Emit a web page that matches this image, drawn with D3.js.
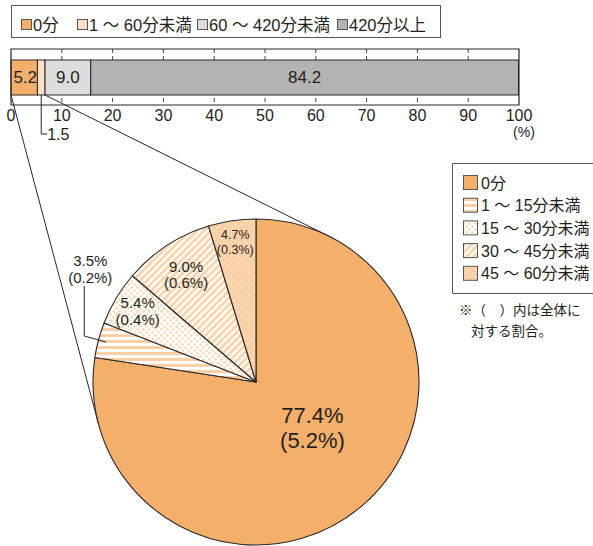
<!DOCTYPE html>
<html>
<head>
<meta charset="utf-8">
<script src="https://cdn.jsdelivr.net/npm/d3@7"></script>
<style>
  html, body { margin: 0; padding: 0; background: #fff; }
  svg { display: block; }
  text { font-family: "Liberation Sans", "Noto Sans CJK JP", sans-serif; fill: #231f20; }
</style>
</head>
<body>
<svg id="chart" width="593" height="546"></svg>
<script>
// ---- data ----
const barCategories = ["0分", "1 ～ 60分未満", "60 ～ 420分未満", "420分以上"];
const barValues = [5.2, 1.5, 9.0, 84.2];
const xTickValues = [0, 10, 20, 30, 40, 50, 60, 70, 80, 90, 100];

const pieCategories = ["0分", "1 ～ 15分未満", "15 ～ 30分未満", "30 ～ 45分未満", "45 ～ 60分未満"];
const pieShare = [77.4, 3.5, 5.4, 9.0, 4.7];      // share within 0～60 min
const pieOfTotal = [5.2, 0.2, 0.4, 0.6, 0.3];     // share of the whole

const noteLines = ["※（　）内は全体に", "対する割合。"];

// ---- styles ----
const ORANGE = "#f4af6b";
const PEACH = "#fad0a6";
const barFills = [ORANGE, "#fde0c5", "#dcdddc", "#b3b3b3"];
const pieFills = [ORANGE, "url(#hstripe)", "url(#dots)", "url(#diag)", "url(#circles)"];
const INK = "#2b2727";

const svg = d3.select("#chart");
const defs = svg.append("defs");

// horizontal stripes
const p1 = defs.append("pattern").attr("id", "hstripe").attr("patternUnits", "userSpaceOnUse")
  .attr("width", 6).attr("height", 6);
p1.append("rect").attr("width", 6).attr("height", 6).attr("fill", "#fff");
p1.append("rect").attr("y", 0).attr("width", 6).attr("height", 3).attr("fill", PEACH);

// small staggered dots
const p2 = defs.append("pattern").attr("id", "dots").attr("patternUnits", "userSpaceOnUse")
  .attr("width", 6).attr("height", 6);
p2.append("rect").attr("width", 6).attr("height", 6).attr("fill", "#fff");
p2.append("circle").attr("cx", 1.5).attr("cy", 1.5).attr("r", 1.2).attr("fill", PEACH);
p2.append("circle").attr("cx", 4.5).attr("cy", 4.5).attr("r", 1.2).attr("fill", PEACH);

// diagonal stripes
const p3 = defs.append("pattern").attr("id", "diag").attr("patternUnits", "userSpaceOnUse")
  .attr("width", 5).attr("height", 5).attr("patternTransform", "rotate(45)");
p3.append("rect").attr("width", 5).attr("height", 5).attr("fill", "#fff");
p3.append("rect").attr("width", 2.6).attr("height", 5).attr("fill", PEACH);

// large circles
const p4 = defs.append("pattern").attr("id", "circles").attr("patternUnits", "userSpaceOnUse")
  .attr("width", 7).attr("height", 7);
p4.append("rect").attr("width", 7).attr("height", 7).attr("fill", "#fff");
[[0, 0], [7, 0], [0, 7], [7, 7], [3.5, 3.5]].forEach(([cx, cy]) =>
  p4.append("circle").attr("cx", cx).attr("cy", cy).attr("r", 3.1).attr("fill", PEACH));

// ---- top legend ----
const topLegend = svg.append("g");
topLegend.append("rect").attr("x", 11.5).attr("y", 5.5).attr("width", 429).attr("height", 32)
  .attr("fill", "none").attr("stroke", "#555").attr("stroke-width", 1);
const topLegendX = [21, 77, 197, 337];
barCategories.forEach((c, i) => {
  topLegend.append("rect").attr("x", topLegendX[i] + 0.5).attr("y", 19.5).attr("width", 10).attr("height", 10)
    .attr("fill", barFills[i]).attr("stroke", "#555").attr("stroke-width", 1);
  topLegend.append("text").attr("x", topLegendX[i] + 12).attr("y", 24.5)
    .attr("dominant-baseline", "central").attr("font-size", 16.5).text(c);
});

// ---- stacked bar ----
const frameTop = 49, frameBottom = 105, barTop = 60, barBottom = 95;
const x = d3.scaleLinear().domain([0, 100]).range([11, 519]);

const barG = svg.append("g");
// dashed tick lines behind the bar
barG.selectAll("line.grid").data(xTickValues.slice(1, -1)).join("line")
  .attr("x1", d => x(d)).attr("x2", d => x(d))
  .attr("y1", frameTop).attr("y2", frameBottom)
  .attr("stroke", "#444").attr("stroke-width", 1).attr("stroke-dasharray", "4,3");

const starts = barValues.map((v, i) => d3.sum(barValues.slice(0, i)));
barG.selectAll("rect.seg").data(barValues).join("rect")
  .attr("x", (d, i) => x(starts[i])).attr("width", (d, i) => x(starts[i] + d) - x(starts[i]))
  .attr("y", barTop).attr("height", barBottom - barTop)
  .attr("fill", (d, i) => barFills[i]).attr("stroke", INK).attr("stroke-width", 1);

// frame
barG.append("path")
  .attr("d", `M${x(0)},${frameTop}H${x(100)}V${frameBottom}H${x(0)}Z`)
  .attr("fill", "none").attr("stroke", INK).attr("stroke-width", 1.2);

// values inside bar
[0, 2, 3].forEach(i => {
  barG.append("text").attr("x", x(starts[i] + barValues[i] / 2) + (i === 0 ? 1 : 0)).attr("y", (barTop + barBottom) / 2)
    .attr("text-anchor", "middle").attr("dominant-baseline", "central").attr("font-size", 17)
    .text(barValues[i].toFixed(1));
});
// leader for the thin 1.5 segment
const smallX = x(starts[1] + barValues[1] / 2);
const smallY = 134;
barG.append("path").attr("d", `M${smallX},${barBottom}V${smallY}H${smallX + 6}`)
  .attr("fill", "none").attr("stroke", INK).attr("stroke-width", 1);
barG.append("text").attr("x", smallX + 6).attr("y", smallY).attr("dominant-baseline", "central")
  .attr("font-size", 16).text(barValues[1].toFixed(1));

// axis labels
barG.selectAll("text.tick").data(xTickValues).join("text")
  .attr("x", d => x(d)).attr("y", 115.5).attr("text-anchor", "middle")
  .attr("dominant-baseline", "central").attr("font-size", 16).text(d => d);
barG.append("text").attr("x", x(100) + 5).attr("y", 132).attr("text-anchor", "middle")
  .attr("dominant-baseline", "central").attr("font-size", 14).text("(%)");

// ---- pie ----
const cx = 256, cy = 382, R = 163;
const pie = d3.pie().sort(null).value(d => d).startAngle(0).endAngle(2 * Math.PI);
const arcs = pie(pieShare);
const arc = d3.arc().innerRadius(0).outerRadius(R);

// lines joining the 0～60 min part of the bar to the pie
function tangent(px, py, sign) {
  const dx = px - cx, dy = py - cy;
  const d = Math.hypot(dx, dy);
  const th = Math.atan2(dy, dx) + sign * Math.acos(R / d);
  return [cx + R * Math.cos(th), cy + R * Math.sin(th)];
}
const joinStart = [x(0), barBottom];
const joinEnd = [x(barValues[0] + barValues[1]), barBottom];
const t1 = tangent(joinStart[0], joinStart[1], -1);
const t2 = tangent(joinEnd[0], joinEnd[1], +1);
svg.append("line").attr("x1", joinStart[0]).attr("y1", joinStart[1]).attr("x2", t1[0]).attr("y2", t1[1])
  .attr("stroke", INK).attr("stroke-width", 1);
svg.append("line").attr("x1", joinEnd[0]).attr("y1", joinEnd[1]).attr("x2", t2[0]).attr("y2", t2[1])
  .attr("stroke", INK).attr("stroke-width", 1);

const pieG = svg.append("g").attr("transform", `translate(${cx},${cy})`);
pieG.selectAll("path").data(arcs).join("path")
  .attr("d", arc).attr("fill", (d, i) => pieFills[i])
  .attr("stroke", INK).attr("stroke-width", 1.1).attr("stroke-linejoin", "round");

const polar = (r, a) => [r * Math.sin(a), -r * Math.cos(a)];
const mid = d => (d.startAngle + d.endAngle) / 2;
const pct = v => v.toFixed(1) + "%";
const pctP = v => "(" + v.toFixed(1) + "%)";

function twoLine(px, py, i, size, gap) {
  pieG.append("text").attr("x", px).attr("y", py - gap / 2).attr("text-anchor", "middle")
    .attr("dominant-baseline", "central").attr("font-size", size).text(pct(pieShare[i]));
  pieG.append("text").attr("x", px).attr("y", py + gap / 2).attr("text-anchor", "middle")
    .attr("dominant-baseline", "central").attr("font-size", size).text(pctP(pieOfTotal[i]));
}
// main slice
{
  const [lx, ly] = polar(73, mid(arcs[0]) - 10 * Math.PI / 180);
  twoLine(lx, ly, 0, 22, 25);
}
// inner labels
[[2, 138, 15, 17], [3, 128, 15, 16], [4, 141, 12.5, 15]].forEach(([i, r, size, gap]) => {
  const [lx, ly] = polar(r, mid(arcs[i]));
  twoLine(lx, ly, i, size, gap);
});
// outside label with leader for the thin slice
{
  const a = mid(arcs[1]);
  const [ex, ey] = polar(155, a);
  const kneeX = ex - 22, kneeY = ey - 6;
  pieG.append("path").attr("d", `M${ex},${ey}L${kneeX},${kneeY}V${kneeY - 50}`)
    .attr("fill", "none").attr("stroke", INK).attr("stroke-width", 1);
  twoLine(kneeX + 6, kneeY - 67.5, 1, 15, 17);
}

// ---- pie legend ----
const lg = svg.append("g");
lg.append("path").attr("d", "M600,163.5H452.5V293.5H600").attr("fill", "none")
  .attr("stroke", "#555").attr("stroke-width", 1);
pieCategories.forEach((c, i) => {
  const y = 175 + i * 22.7;
  lg.append("rect").attr("x", 463.5).attr("y", y + 0.5).attr("width", 14).attr("height", 14)
    .attr("fill", pieFills[i]).attr("stroke", "#555").attr("stroke-width", 1);
  lg.append("text").attr("x", 481).attr("y", y + 8).attr("dominant-baseline", "central")
    .attr("font-size", 16).text(c);
});
lg.append("text").attr("x", 459).attr("y", 310).attr("dominant-baseline", "central")
  .attr("font-size", 13.5).text(noteLines[0]);
lg.append("text").attr("x", 471).attr("y", 331).attr("dominant-baseline", "central")
  .attr("font-size", 13.5).text(noteLines[1]);
</script>
</body>
</html>
